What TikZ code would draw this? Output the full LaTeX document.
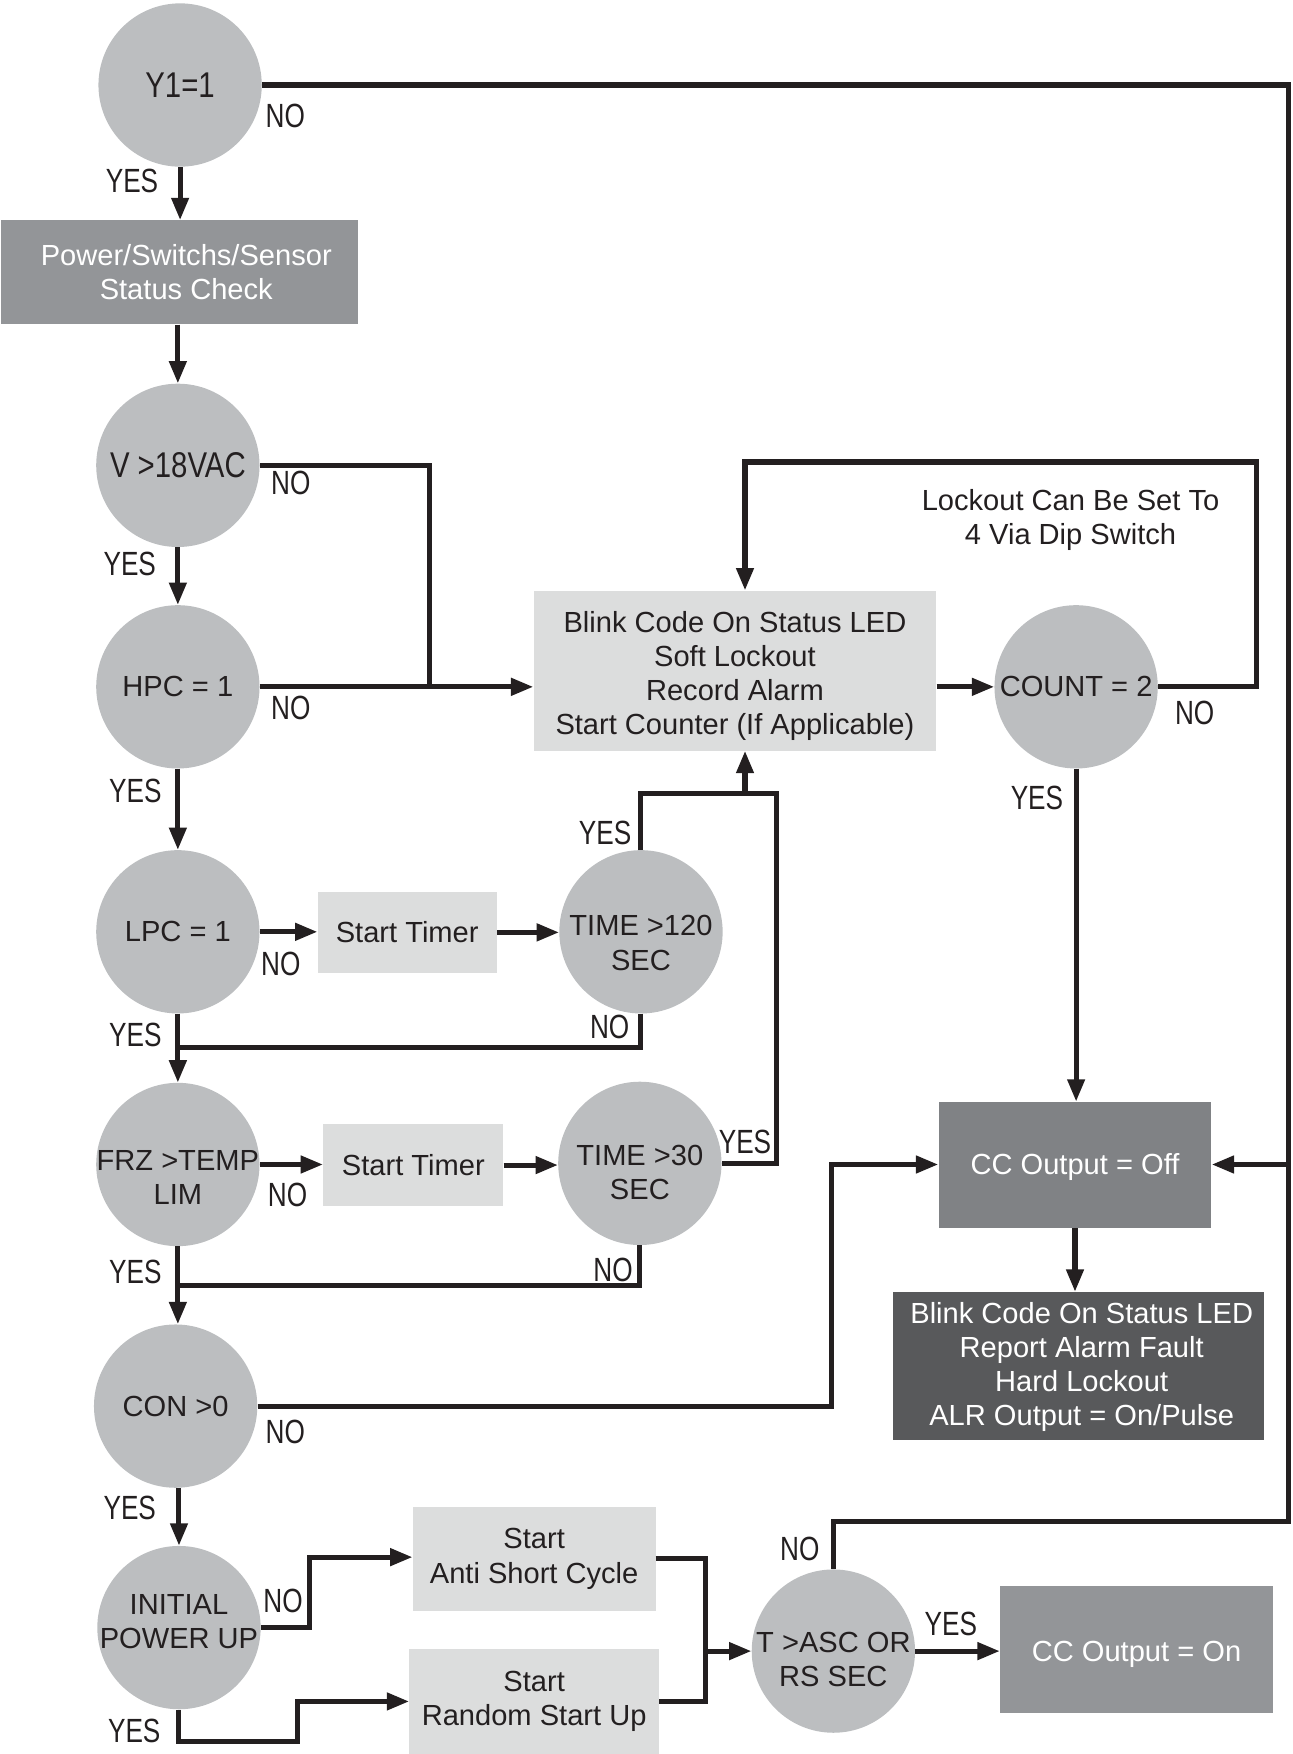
\documentclass[tikz,border=0pt]{standalone}
\usepackage{fontspec}
\setmainfont{Liberation Sans}
\newfontfamily\condf[FakeStretch=0.78]{Liberation Sans}
\newfontfamily\condg[FakeStretch=0.82]{Liberation Sans}
\usetikzlibrary{arrows.meta}
\definecolor{cgray}{HTML}{BCBEC0}
\definecolor{lgray}{HTML}{DCDDDD}
\definecolor{mgray}{HTML}{939598}
\definecolor{ogray}{HTML}{808285}
\definecolor{dgray}{HTML}{58595B}
\definecolor{ink}{HTML}{231F20}
\newcommand\myBody{\fontsize{26}{30.5}\selectfont}
\newcommand\myCond{\condf\fontsize{30}{30}\selectfont}
\newcommand\myBig{\condg\fontsize{32}{30.5}\selectfont}
\tikzset{
  dec/.style={circle, fill=cgray, minimum size=146pt, inner sep=0pt, align=center, font=\myBody, text=ink},
  lbox/.style={rectangle, fill=lgray, inner sep=0pt, align=center, font=\myBody, text=ink},
  gbox/.style={rectangle, inner sep=0pt, align=center, font=\myBody, text=white},
  dtext/.style={align=center, font=\myBody, text=ink, inner sep=0pt},
  wtext/.style={align=center, font=\myBody, text=white, inner sep=0pt},
  lab/.style={font=\myCond, inner sep=0pt, text=ink},
  conn/.style={draw=ink, line width=4.5pt, line join=miter},
  arr/.style={conn, -{Triangle[length=20pt,width=15pt]}},
}
\begin{document}
\begin{tikzpicture}[x=1pt,y=-1pt]
\useasboundingbox (0,0) rectangle (1155,1568);

% nodes
\node[dec, font=\myBig] (y1) at (161,76) {Y1=1};
\node[gbox, fill=mgray, minimum width=319pt, minimum height=93pt,
  label={[wtext, xshift=6pt]center:Power/Switchs/Sensor\\Status Check}] (power) at (160.5,243.5) {};
\node[dec, font=\myBig] (v18) at (159,416) {V >18VAC};
\node[dec] (hpc) at (159,614) {HPC = 1};
\node[dec] (lpc) at (159,833) {LPC = 1};
\node[lbox, minimum width=160pt, minimum height=73pt] (timer1) at (364,833.5) {Start Timer};
\node[dec, label={[dtext, yshift=-10pt]center:TIME >120\\SEC}] (t120) at (573,833) {};
\node[dec, label={[dtext, yshift=-12pt]center:FRZ >TEMP\\LIM}] (frz) at (159,1041) {};
\node[lbox, minimum width=161pt, minimum height=73pt] (timer2) at (369.5,1041.5) {Start Timer};
\node[dec, label={[dtext, yshift=-8.5pt]center:TIME >30\\SEC}] (t30) at (572,1040) {};
\node[dec] (con) at (157,1257) {CON >0};
\node[dec, label={[dtext, yshift=5pt]center:INITIAL\\POWER UP}] (init) at (160,1455) {};
\node[lbox, minimum width=217pt, minimum height=93pt] (asc) at (477.5,1393.5) {Start\\Anti Short Cycle};
\node[lbox, minimum width=223pt, minimum height=94pt] (rsu) at (477.5,1521) {Start\\Random Start Up};
\node[dec, label={[dtext, yshift=-7.5pt]center:T >ASC OR\\RS SEC}] (tasc) at (745,1476) {};
\node[gbox, fill=mgray, minimum width=244pt, minimum height=113pt,
  label={[wtext, yshift=-4pt]center:CC Output = On}] (ccon) at (1016,1474.5) {};
\node[lbox, minimum width=360pt, minimum height=143pt,
  label={[dtext, yshift=-5pt]center:Blink Code On Status LED\\Soft Lockout\\Record Alarm\\Start Counter (If Applicable)}] (blink) at (657,599.5) {};
\node[dec] (count) at (962,614) {COUNT = 2};
\node[gbox, fill=ogray, minimum width=244pt, minimum height=113pt,
  label={[wtext, yshift=-2pt]center:CC Output = Off}] (ccoff) at (961,1041.5) {};
\node[gbox, fill=dgray, minimum width=332pt, minimum height=132pt,
  label={[wtext, xshift=3pt, yshift=-1pt]center:Blink Code On Status LED\\Report Alarm Fault\\Hard Lockout\\ALR Output = On/Pulse}] (hard) at (964,1221) {};
\node[dtext] (lockout) at (957,464.5) {Lockout Can Be Set To\\4 Via Dip Switch};

% junction coordinates
\coordinate (j1) at (384,614);
\coordinate (j2) at (666,709);
\coordinate (j2b) at (694,709);
\coordinate (j3) at (159,936);
\coordinate (j3b) at (159,1149);
\coordinate (j4) at (743,1041);
\coordinate (j5) at (277,1392);
\coordinate (j6) at (266,1557);
\coordinate (j8) at (631,1476);
\coordinate (j9) at (1152,1360);
\coordinate (j10) at (1152,1041);
\coordinate (j11) at (1123,413);
\coordinate (j12) at (666,413);

% connectors
\draw[arr] (y1.south) -- (y1.south |- power.north);
\draw[arr] (power.south -| v18.south) -- (v18.north);
\draw[conn] (v18.east) -| (j1);
\draw[arr] (v18.south) -- (hpc.north);
\draw[arr] (hpc.east) -- (hpc.east -| blink.west);
\draw[arr] (hpc.south) -- (lpc.north);
\draw[arr] (lpc.east) -- (lpc.east -| timer1.west);
\draw[arr] (timer1.east) -- (timer1.east -| t120.west);
\draw[conn] (t120.north) |- (j2b) |- (t30.east);
\draw[arr] (j2) -- (j2 |- blink.south);
\draw[conn] (t120.south) |- (j3);
\draw[arr] (lpc.south) -- (frz.north);
\draw[arr] (frz.east) -- (frz.east -| timer2.west);
\draw[arr] (timer2.east) -- (timer2.east -| t30.west);
\draw[conn] (t30.south) |- (j3b);
\draw[arr] (frz.south) -- (frz.south |- con.north);
\draw[arr] (con.east) -| (j4) -- (j4 -| ccoff.west);
\draw[arr] (con.south -| init.north) -- (init.north);
\draw[arr] (init.east) -| (j5) -- (j5 -| asc.west);
\draw[arr] (init.south) |- (j6) |- (rsu.west);
\draw[conn] (asc.east) -| (j8) |- (rsu.east);
\draw[arr] (j8) -- (j8 -| tasc.west);
\draw[arr] (tasc.east) -- (tasc.east -| ccon.west);
\draw[conn] (y1.east) -| (j9) -| (tasc.north);
\draw[arr] (j10) -- (j10 -| ccoff.east);
\draw[arr] (blink.east |- count.west) -- (count.west);
\draw[arr] (count.east) -| (j11) -- (j12) -- (j12 |- blink.north);
\draw[arr] (count.south) -- (count.south |- ccoff.north);
\draw[arr] (ccoff.south) -- (ccoff.south |- hard.north);

% labels
\node[lab] (n1) at (255,104) {NO};
\node[lab] (s1) at (118,162) {YES};
\node[lab] (n2) at (260,432) {NO};
\node[lab] (s2) at (116,504) {YES};
\node[lab] (n3) at (260,633) {NO};
\node[lab] (s3) at (121,707) {YES};
\node[lab] (n4) at (251,862) {NO};
\node[lab] (s4) at (541,745) {YES};
\node[lab] (n5) at (545,918) {NO};
\node[lab] (s5) at (121,925) {YES};
\node[lab] (n6) at (257,1068) {NO};
\node[lab] (s6) at (666,1021) {YES};
\node[lab] (n7) at (548,1135) {NO};
\node[lab] (s7) at (121,1137) {YES};
\node[lab] (n8) at (255,1280) {NO};
\node[lab] (s8) at (116,1348) {YES};
\node[lab] (n9) at (253,1431) {NO};
\node[lab] (s9) at (120,1547) {YES};
\node[lab] (n10) at (715,1385) {NO};
\node[lab] (s10) at (850,1452) {YES};
\node[lab] (n11) at (1068,637) {NO};
\node[lab] (s11) at (927,713) {YES};
\end{tikzpicture}
\end{document}
